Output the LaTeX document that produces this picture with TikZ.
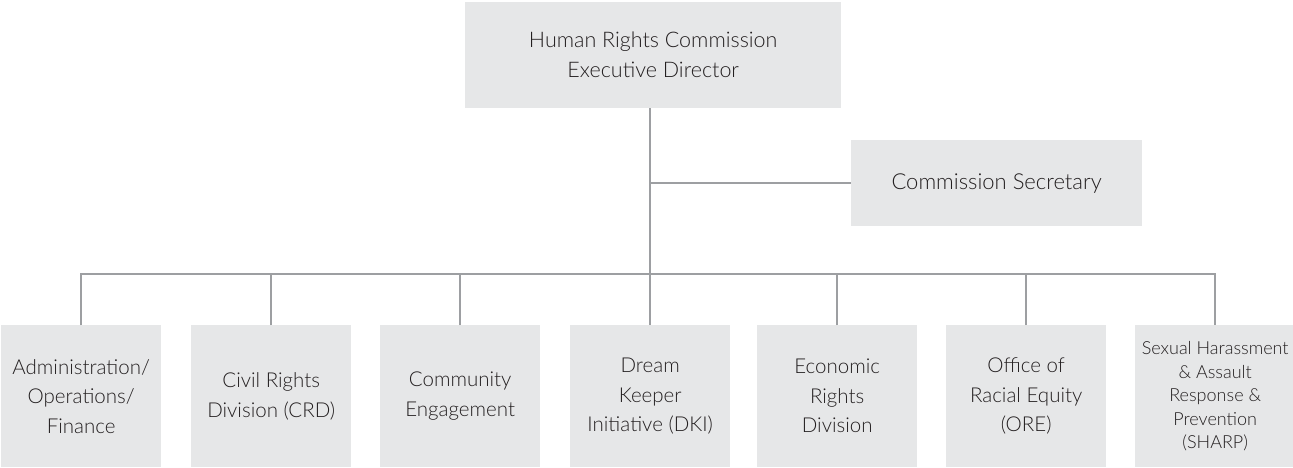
\documentclass[tikz,border=0pt]{standalone}
\usepackage{fontspec}
\setmainfont{Lato Light}
\definecolor{boxgray}{HTML}{E6E7E8}
\definecolor{linegray}{HTML}{9D9FA2}
\definecolor{txt}{HTML}{231F20}
\begin{document}
\begin{tikzpicture}[x=1pt,y=1pt,
  box/.style={fill=boxgray, draw=none, anchor=north west, align=center, inner sep=0pt, text=txt,
    font=\fontsize{20.5}{29.5}\selectfont},
  unit/.style={box, minimum width=160pt, minimum height=142pt},
  conn/.style={draw=linegray, line width=2pt}]
\useasboundingbox (0,0) rectangle (1293,-467);
\node[box, minimum width=376pt, minimum height=106pt, font=\fontsize{21.5}{30}\selectfont] (top) at (465,-2) {Human Rights Commission\\Executive Director};
\node[box, minimum width=291pt, minimum height=86pt, font=\fontsize{22}{30}\selectfont] (sec) at (851,-140) {Commission Secretary};
\node[unit] (b1) at (1,-325) {Administration/\\Operations/\\Finance};
\node[unit] (b2) at (191,-325) {Civil Rights\\Division (CRD)};
\node[unit] (b3) at (380,-325) {Community\\Engagement};
\node[unit] (b4) at (570,-325) {Dream\\Keeper\\Initiative (DKI)};
\node[unit] (b5) at (757,-325) {Economic\\Rights\\Division};
\node[unit] (b6) at (946,-325) {Office of\\Racial Equity\\(ORE)};
\node[unit, font=\fontsize{18}{23.5}\selectfont] (b7) at (1135,-325) {Sexual Harassment\\\& Assault\\Response \&\\Prevention\\(SHARP)};
\coordinate (bus) at (0,-274);
\draw[conn] (b4.north |- top.south) -- (b4.north);
\draw[conn] (b4.north |- sec.west) -- (sec.west);
\draw[conn] (b1.north) -- (b1.north |- bus) -- (b7.north |- bus) -- (b7.north);
\foreach \b in {b2,b3,b5,b6}{\draw[conn] (\b.north) -- (\b.north |- bus);}
\end{tikzpicture}
\end{document}
